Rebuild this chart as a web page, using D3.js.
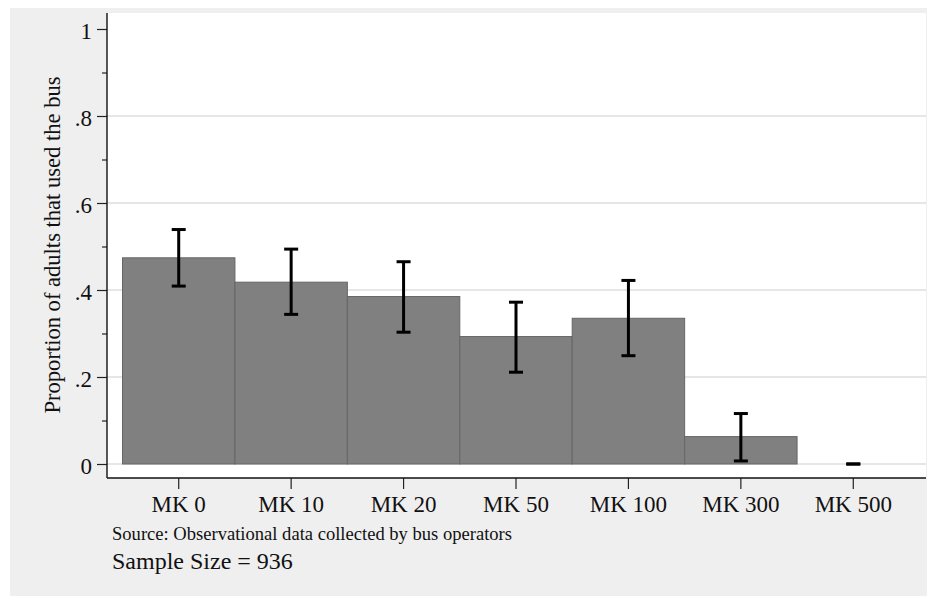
<!DOCTYPE html>
<html>
<head>
<meta charset="utf-8">
<script src="https://cdn.jsdelivr.net/npm/d3@7/dist/d3.min.js"></script>
<style>
  html, body { margin: 0; padding: 0; background: #ffffff; }
  svg { display: block; }
  text { font-family: "Liberation Serif", "Times New Roman", serif; fill: #111; }
</style>
</head>
<body>
<svg id="chart" width="933" height="596"></svg>
<script>
// Bus use by fare level: share of adults riding, with 95% confidence intervals
const categories = ["MK 0", "MK 10", "MK 20", "MK 50", "MK 100", "MK 300", "MK 500"];
const proportions = [0.474, 0.418, 0.385, 0.293, 0.335, 0.063, 0.0];
const ciLow  = [0.409, 0.344, 0.303, 0.211, 0.249, 0.007, 0.0];
const ciHigh = [0.539, 0.494, 0.465, 0.372, 0.422, 0.116, 0.0];
const yMajorTicks = [0, 0.2, 0.4, 0.6, 0.8, 1];
const yMinorTicks = [0.1, 0.3, 0.5, 0.7, 0.9];
const yGridValues = [0, 0.2, 0.4, 0.6, 0.8];
const yTickLabels = ["0", ".2", ".4", ".6", ".8", "1"];
const yTitle = "Proportion of adults that used the bus";
const sourceNote = "Source: Observational data collected by bus operators";
const sampleNote = "Sample Size = 936";

const svg = d3.select("#chart");

// Outer panel and plot region
const panel = { x0: 10, y0: 8, x1: 927, y1: 596 };
const plot = { left: 107, top: 13, right: 926, bottom: 478 };

svg.append("rect")
  .attr("x", panel.x0).attr("y", panel.y0)
  .attr("width", panel.x1 - panel.x0).attr("height", panel.y1 - panel.y0)
  .attr("fill", "#efefef");

svg.append("rect")
  .attr("x", plot.left).attr("y", plot.top)
  .attr("width", plot.right - plot.left).attr("height", plot.bottom - plot.top)
  .attr("fill", "#ffffff");

const x = d3.scaleBand().domain(categories).range([122.5, 909.5]).padding(0);
const y = d3.scaleLinear().domain([0, 1]).range([464, 29]);

// Horizontal grid
svg.append("g")
  .selectAll("line")
  .data(yGridValues)
  .join("line")
  .attr("x1", plot.left).attr("x2", plot.right)
  .attr("y1", d => y(d)).attr("y2", d => y(d))
  .attr("stroke", "#e6e6e6")
  .attr("stroke-width", 2.2);

// Bars
const data = categories.map((c, i) => ({ c, v: proportions[i], lo: ciLow[i], hi: ciHigh[i] }));

svg.append("g")
  .selectAll("rect")
  .data(data.filter(d => d.v > 0))
  .join("rect")
  .attr("x", d => x(d.c))
  .attr("y", d => y(d.v))
  .attr("width", x.bandwidth())
  .attr("height", d => y(0) - y(d.v))
  .attr("fill", "#808080")
  .attr("stroke", "#666666")
  .attr("stroke-width", 1);

// Confidence interval caps and stems
const capHalf = 7;
const ci = svg.append("g").attr("stroke", "#000").attr("stroke-width", 3);
data.forEach(d => {
  const cx = x(d.c) + x.bandwidth() / 2;
  if (d.hi > d.lo) {
    ci.append("line")
      .attr("x1", cx).attr("x2", cx)
      .attr("y1", y(d.hi)).attr("y2", y(d.lo));
  }
  [d.hi, d.lo].forEach(v => {
    ci.append("line")
      .attr("x1", cx - capHalf).attr("x2", cx + capHalf)
      .attr("y1", y(v)).attr("y2", y(v));
  });
});

// Y axis: major ticks with labels, minor ticks without
const yAxisMajor = d3.axisLeft(y)
  .tickValues(yMajorTicks)
  .tickSize(10)
  .tickPadding(5)
  .tickFormat((d, i) => yTickLabels[i]);

const yAxisMinor = d3.axisLeft(y)
  .tickValues(yMinorTicks)
  .tickSize(5)
  .tickFormat("");

const gyMinor = svg.append("g").attr("transform", `translate(${plot.left},0)`).call(yAxisMinor);
const gy = svg.append("g").attr("transform", `translate(${plot.left},0)`).call(yAxisMajor);
[gy, gyMinor].forEach(g => {
  g.select(".domain").remove();
  g.selectAll(".tick line").attr("stroke", "#222").attr("stroke-width", 1.2);
});
gy.selectAll(".tick text")
  .attr("font-size", 23)
  .attr("font-family", "Liberation Serif, serif")
  .attr("fill", "#111")
  .attr("dy", "0.4em");

// X axis
const xAxis = d3.axisBottom(x).tickSize(11).tickPadding(6);
const gx = svg.append("g").attr("transform", `translate(0,${plot.bottom})`).call(xAxis);
gx.select(".domain").remove();
gx.selectAll(".tick line").attr("stroke", "#222").attr("stroke-width", 1.2);
gx.selectAll(".tick text")
  .attr("font-size", 23)
  .attr("font-family", "Liberation Serif, serif")
  .attr("fill", "#111")
  .attr("y", 34)
  .attr("dy", 0);

// Axis lines
svg.append("line")
  .attr("x1", plot.left).attr("x2", plot.left)
  .attr("y1", plot.top).attr("y2", plot.bottom)
  .attr("stroke", "#111").attr("stroke-width", 1.4);
svg.append("line")
  .attr("x1", plot.left).attr("x2", plot.right)
  .attr("y1", plot.bottom).attr("y2", plot.bottom)
  .attr("stroke", "#111").attr("stroke-width", 1.4);

// Y axis title
svg.append("text")
  .attr("transform", "translate(60,245) rotate(-90)")
  .attr("text-anchor", "middle")
  .attr("font-size", 22.5)
  .attr("textLength", 337)
  .attr("lengthAdjust", "spacingAndGlyphs")
  .text(yTitle);

// Notes
svg.append("text")
  .attr("x", 112).attr("y", 540)
  .attr("font-size", 19)
  .attr("textLength", 400)
  .attr("lengthAdjust", "spacingAndGlyphs")
  .text(sourceNote);

svg.append("text")
  .attr("x", 112).attr("y", 569)
  .attr("font-size", 24)
  .text(sampleNote);
</script>
</body>
</html>
